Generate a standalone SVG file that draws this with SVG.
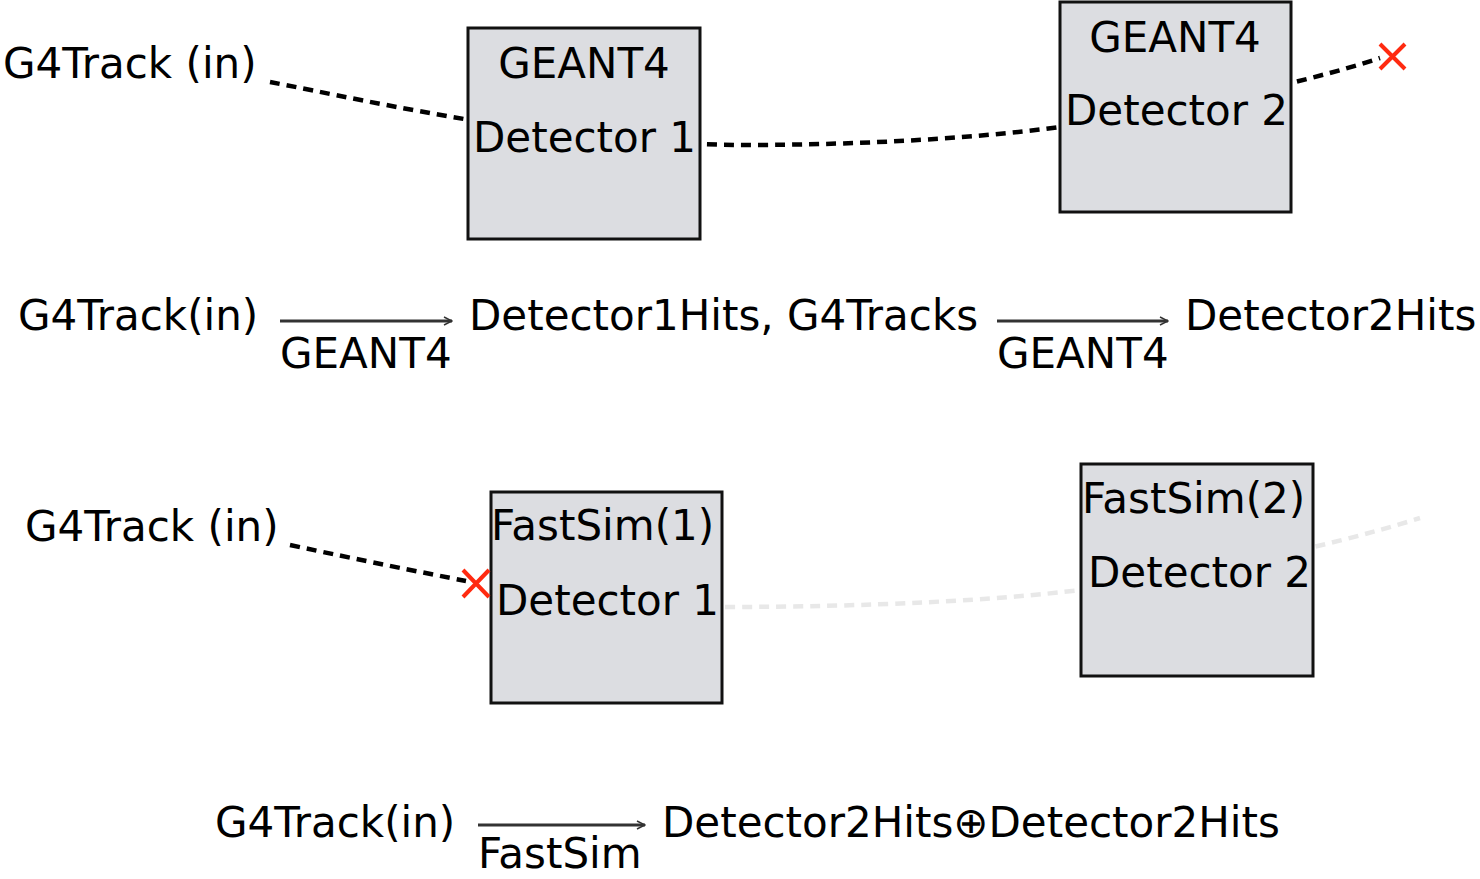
<svg xmlns="http://www.w3.org/2000/svg" width="1480" height="879" viewBox="0 0 1480 879">
<defs>
<style>
text{font-family:"DejaVu Sans","Liberation Sans",sans-serif;font-size:42px;fill:#000}
.box{fill:#dcdde1;stroke:#111;stroke-width:3}
.track{fill:none;stroke:#000;stroke-width:4.5;stroke-dasharray:10 7}
.ghost{fill:none;stroke:#e8e8e8;stroke-width:4.5;stroke-dasharray:10 7}
.kill{stroke:#ff2a10;stroke-width:4;fill:none}
.arr{stroke:#333;stroke-width:3;fill:none}
</style>
<marker id="ah" viewBox="0 0 10 10" refX="9" refY="5" markerWidth="10" markerHeight="10" markerUnits="userSpaceOnUse" orient="auto">
<path d="M1,1 L9,5 L1,9" fill="none" stroke="#333" stroke-width="1.5"/>
</marker>
</defs>
<rect width="1480" height="879" fill="#fff"/>

<g id="connectors">
<path class="track" d="M270,82 C380,103 560,146 760,145 C900,144 1000,135 1060,127 C1150,115 1300,85 1380,58"/>
<path class="ghost" d="M725,607 C870,607 1000,600 1080,590 C1170,579 1320,550 1420,518"/>
<path class="track" d="M290,545 C360,560 420,572 466,581"/>
<line class="arr" x1="280" y1="321" x2="452" y2="321" marker-end="url(#ah)"/>
<line class="arr" x1="997" y1="321" x2="1168" y2="321" marker-end="url(#ah)"/>
<line class="arr" x1="478" y1="825" x2="645" y2="825" marker-end="url(#ah)"/>
</g>

<g id="g4track-in-1"><text x="3" y="78">G4Track (in)</text></g>
<g id="geant4-detector1">
<rect class="box" x="468" y="28" width="232" height="211"/>
<text x="584" y="78" text-anchor="middle">GEANT4</text>
<text x="473" y="152">Detector 1</text>
</g>
<g id="geant4-detector2">
<rect class="box" x="1060" y="2" width="231" height="210"/>
<text x="1175" y="52" text-anchor="middle">GEANT4</text>
<text x="1065" y="125">Detector 2</text>
</g>
<g id="kill-1"><path class="kill" d="M1380,44 L1405,69 M1405,44 L1380,69"/></g>

<g id="eq1">
<text x="18" y="330">G4Track(in)</text>
<text x="280" y="368">GEANT4</text>
<text x="469" y="330">Detector1Hits, G4Tracks</text>
<text x="997" y="368">GEANT4</text>
<text x="1185" y="330">Detector2Hits</text>
</g>

<g id="g4track-in-2"><text x="25" y="541">G4Track (in)</text></g>
<g id="fastsim-detector1">
<rect class="box" x="491" y="492" width="231" height="211"/>
<text x="491" y="540">FastSim(1)</text>
<text x="496" y="615">Detector 1</text>
</g>
<g id="fastsim-detector2">
<rect class="box" x="1081" y="464" width="232" height="212"/>
<text x="1082" y="513">FastSim(2)</text>
<text x="1088" y="587">Detector 2</text>
</g>
<g id="kill-2"><path class="kill" d="M463,570 L489,597 M489,570 L463,597"/></g>

<g id="eq2">
<text x="215" y="837">G4Track(in)</text>
<text x="478" y="868">FastSim</text>
<text x="662" y="837">Detector2Hits⊕Detector2Hits</text>
</g>
</svg>
